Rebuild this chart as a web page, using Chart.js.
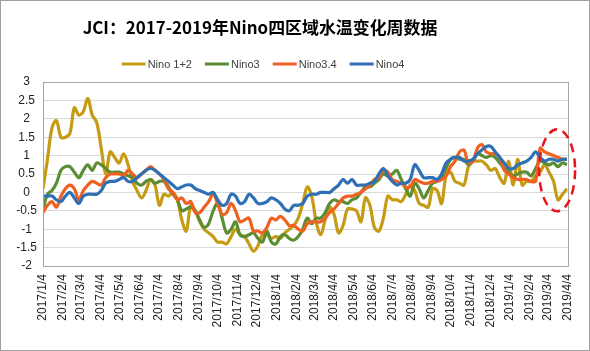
<!DOCTYPE html>
<html lang="zh-CN">
<head>
    <meta charset="UTF-8">
    <title>JCI Nino四区域水温变化周数据</title>
    <script src="https://cdn.jsdelivr.net/npm/chart.js"></script>
    <style>
        body {
            margin: 0;
            padding: 0;
            background-color: #fff;
        }
        .container {
            width: 590px;
            height: 351px;
        }
    </style>
</head>
<body>

    <div class="container">
        <canvas id="graficoNino" width="590" height="351"></canvas>
    </div>

    <script>
        // 周数据起点（每周一个点）
        const startDate = "2017/1/4";

        // x轴刻度（每月）
        const tickLabels = [
            "2017/1/4", "2017/2/4", "2017/3/4", "2017/4/4", "2017/5/4", "2017/6/4", "2017/7/4",
            "2017/8/4", "2017/9/4", "2017/10/4", "2017/11/4", "2017/12/4", "2018/1/4", "2018/2/4",
            "2018/3/4", "2018/4/4", "2018/5/4", "2018/6/4", "2018/7/4", "2018/8/4", "2018/9/4",
            "2018/10/4", "2018/11/4", "2018/12/4", "2019/1/4", "2019/2/4", "2019/3/4", "2019/4/4"
        ];

        const seriesNames = ["Nino 1+2", "Nino3", "Nino3.4", "Nino4"];
        const seriesColors = ["#C69B14", "#5C8D33", "#EF6121", "#2F6FB4"];

        const nino12 = [
            0.1, 0.9, 1.75, 1.95, 1.5, 1.5, 1.6, 2.3, 2.1, 2.2,
            2.55, 2.1, 1.9, 1.2, 0.5, 1.1, 0.95, 0.8, 1.05, 0.75,
            0.3, 0.05, -0.15, 0.05, 0.35, 0.2, -0.35, -0.05, -0.1, 0.0,
            -0.2, -0.75, -1.05, -0.35, -0.5, -0.8, -1.0, -1.1, -1.2, -1.35,
            -1.35, -1.4, -1.2, -1.0, -1.15, -1.2, -1.4, -1.6, -1.45, -1.15,
            -1.15, -1.25, -1.2, -1.25, -1.1, -1.0, -0.9, -0.7, -0.3, 0.15,
            -0.1, -0.8, -1.15, -0.75, -0.4, -0.6, -1.1, -0.9, -0.45, -0.45,
            -0.5, -0.8, -0.15, -0.35, -0.95, -1.05, -0.7, -0.1, -0.2, -0.2,
            -0.25, -0.05, 0.2, 0.05, -0.3, -0.35, -0.4, 0.1, 0.05, -0.3,
            0.45, 0.55, 0.3, 0.25, 0.2, 0.7, 0.85, 0.85, 0.85, 0.75,
            0.6, 0.65, 0.4, 0.25, 0.85, 0.2, 0.9, 0.2, 0.3, 0.3,
            0.45, 0.55, 0.75, 0.55, 0.3, -0.2, -0.05, 0.1
        ];
        const nino3 = [
            -0.45, -0.05, 0.05, 0.25, 0.6, 0.7, 0.7, 0.55, 0.4, 0.6,
            0.75, 0.6, 0.8, 0.75, 0.65, 0.55, 0.55, 0.55, 0.5, 0.45,
            0.4, 0.25, 0.2, 0.3, 0.35, 0.25, 0.3, 0.3, 0.15, -0.05,
            -0.2, -0.5, -0.45, -0.4, -0.5, -0.75, -0.95, -0.85, -0.5, -0.3,
            -0.7, -1.1, -1.0, -0.8, -1.15, -1.2, -1.15, -1.1, -1.25, -1.35,
            -1.05, -1.35, -1.4, -1.2, -1.15, -1.25, -1.3, -1.2, -1.0, -0.7,
            -0.85, -0.7, -0.7, -0.55, -0.3, -0.2, -0.25, -0.25, -0.3, -0.2,
            -0.15, 0.0, 0.15, 0.15, 0.25, 0.35, 0.5, 0.45, 0.5, 0.6,
            0.35, 0.1, -0.1, 0.25, 0.1, -0.15, 0.05, 0.25, 0.3, 0.4,
            0.65, 0.9, 0.95, 0.9, 0.9, 0.75, 0.85, 1.05, 1.0, 0.95,
            1.0, 0.95, 0.8, 0.65, 0.55, 0.45, 0.5, 0.55, 0.55, 0.45,
            0.65, 0.85, 0.8, 0.75, 0.8, 0.7, 0.8, 0.75
        ];
        const nino34 = [
            -0.55, -0.35, -0.25, -0.4, -0.1, 0.1, 0.2, 0.1, -0.2, 0.05,
            0.2, 0.3, 0.25, 0.2, 0.4, 0.5, 0.5, 0.5, 0.45, 0.6,
            0.5, 0.4, 0.5, 0.6, 0.7, 0.6, 0.5, 0.35, 0.1, 0.0,
            -0.2, -0.15, -0.3, -0.25, -0.55, -0.55, -0.4, -0.25, -0.05, -0.3,
            -0.6, -0.55, -0.3, -0.5, -0.8, -0.75, -0.7, -1.05, -1.05, -1.1,
            -0.95, -0.7, -0.75, -0.65, -0.75, -0.9, -0.9, -1.0, -1.05, -0.85,
            -0.8, -0.8, -0.8, -0.7, -0.55, -0.45, -0.3, -0.15, -0.1, -0.1,
            -0.05, 0.0, 0.1, 0.2, 0.35, 0.4, 0.6, 0.55, 0.35, 0.3,
            0.25, 0.15, 0.15, 0.35, 0.3, 0.25, 0.25, 0.3, 0.3, 0.35,
            0.45, 0.7, 0.85, 1.1, 1.15, 0.8, 0.85, 1.2, 1.3, 1.1,
            1.05, 1.05, 0.95, 0.6, 0.5, 0.4, 0.35, 0.35, 0.35, 0.3,
            0.3, 1.2, 1.1, 1.05, 1.0, 0.95, 0.9, 0.9
        ];
        const nino4 = [
            -0.1, -0.1, -0.1, -0.2, -0.25, -0.1, 0.0, -0.15, -0.3, -0.1,
            -0.05, -0.05, -0.05, 0.05, 0.25, 0.3, 0.3, 0.35, 0.4, 0.3,
            0.3, 0.4, 0.5, 0.6, 0.65, 0.6, 0.5, 0.4, 0.3, 0.2,
            0.1, 0.15, 0.2, 0.2, 0.1, 0.05, 0.0, -0.05, 0.0, -0.2,
            -0.35, -0.3, -0.05, -0.1, -0.3, -0.25, -0.05, -0.15, -0.3, -0.3,
            -0.25, -0.15, -0.2, -0.3, -0.45, -0.5, -0.35, -0.35, -0.3, -0.1,
            -0.05, -0.05, 0.0, 0.0, 0.0, 0.1, 0.2, 0.35, 0.25, 0.35,
            0.2, 0.2, 0.2, 0.25, 0.3, 0.5, 0.65, 0.45, 0.3, 0.2,
            0.25, 0.25, 0.35, 0.75, 0.6, 0.4, 0.4, 0.4, 0.35, 0.5,
            0.8, 0.9, 0.95, 0.95, 0.85, 0.85, 0.9, 1.05, 1.15, 1.25,
            1.25, 1.1, 0.95, 0.8, 0.65, 0.65, 0.75, 0.8, 0.85, 0.95,
            1.1, 0.95, 0.85, 0.9, 0.9, 0.85, 0.9, 0.9
        ];

        const allSeries = [nino12, nino3, nino34, nino4];

        // 日期 -> 距起点的天数
        function dayOffset(label) {
            const p = label.split("/").map(Number);
            const s = startDate.split("/").map(Number);
            return (Date.UTC(p[0], p[1] - 1, p[2]) - Date.UTC(s[0], s[1] - 1, s[2])) / 86400000;
        }
        const tickDays = tickLabels.map(dayOffset);

        const fontLatin = "'Liberation Sans', Arial, sans-serif";

        // 标题、图例、边框、红色虚线椭圆
        const decorPlugin = {
            id: "decor",
            afterDatasetsDraw(chart) {
                const ctx = chart.ctx;
                const area = chart.chartArea;
                const xs = chart.scales.x;
                const ys = chart.scales.y;

                // 绘图区边框
                ctx.save();
                ctx.strokeStyle = "#a6a6a6";
                ctx.lineWidth = 1;
                ctx.strokeRect(Math.round(area.left) + 0.5, Math.round(area.top) + 0.5,
                    Math.round(area.right - area.left), Math.round(area.bottom - area.top));

                // 红色虚线椭圆（标注最近几周）
                const cx = xs.getPixelForValue(114.8 * 7);
                const cy = ys.getPixelForValue(0.6);
                ctx.strokeStyle = "#E8141C";
                ctx.lineWidth = 2.5;
                ctx.setLineDash([9, 6]);
                ctx.beginPath();
                ctx.ellipse(cx, cy, 18, 41, 0, 0, Math.PI * 2);
                ctx.stroke();
                ctx.restore();
            },
            afterDraw(chart) {
                const ctx = chart.ctx;
                ctx.save();

                // 外框
                ctx.strokeStyle = "#a0a0a0";
                ctx.lineWidth = 1;
                ctx.strokeRect(0.5, 0.5, chart.width - 1, chart.height - 1);

                // 标题
                const title = "JCI：2017-2019年Nino四区域水温变化周数据";
                let size = 18;
                ctx.font = "bold " + size + "px 'Noto Sans CJK SC', sans-serif";
                size = size * 355 / ctx.measureText(title).width;
                ctx.font = "bold " + size.toFixed(2) + "px 'Noto Sans CJK SC', sans-serif";
                ctx.fillStyle = "#000";
                ctx.textAlign = "center";
                ctx.textBaseline = "middle";
                ctx.fillText(title, 260, 28);

                // 图例
                ctx.font = "11px " + fontLatin;
                ctx.textAlign = "left";
                const swatch = 24, gap = 2, spacing = 13;
                const widths = seriesNames.map(n => swatch + gap + ctx.measureText(n).width);
                const total = widths.reduce((a, b) => a + b, 0) + spacing * (seriesNames.length - 1);
                let x = 263 - total / 2;
                const y = 64;
                seriesNames.forEach((name, i) => {
                    ctx.fillStyle = seriesColors[i];
                    ctx.fillRect(x, y - 1.5, swatch, 3);
                    ctx.fillStyle = "#404040";
                    ctx.fillText(name, x + swatch + gap, y + 0.5);
                    x += widths[i] + spacing;
                });
                ctx.restore();
            }
        };

        // 数据集：Nino4 画在最上层
        const datasets = seriesNames.map((name, i) => ({
            label: name,
            data: allSeries[i].map((v, w) => ({ x: w * 7, y: v })),
            borderColor: seriesColors[i],
            backgroundColor: seriesColors[i],
            borderWidth: 3.2,
            pointRadius: 0,
            tension: 0.35,
            order: seriesNames.length - i
        }));

        new Chart(document.getElementById("graficoNino"), {
            type: "line",
            data: { datasets: datasets },
            options: {
                responsive: false,
                animation: false,
                layout: { padding: { top: 82, right: 15, left: 0, bottom: 0 } },
                plugins: {
                    legend: { display: false },
                    title: { display: false },
                    tooltip: { enabled: false }
                },
                scales: {
                    x: {
                        type: "linear",
                        min: 0,
                        max: tickDays[tickDays.length - 1],
                        grid: { display: false, drawTicks: false },
                        border: { display: false },
                        afterBuildTicks: (scale) => {
                            scale.ticks = tickDays.map(v => ({ value: v }));
                        },
                        afterFit: (scale) => { scale.height = 85; },
                        ticks: {
                            autoSkip: false,
                            minRotation: 90,
                            maxRotation: 90,
                            padding: 8,
                            color: "#222",
                            font: { size: 12, family: fontLatin },
                            callback: (v) => tickLabels[tickDays.indexOf(v)]
                        }
                    },
                    y: {
                        min: -2,
                        max: 3,
                        grid: { color: "#d9d9d9", drawTicks: false },
                        border: { display: false },
                        afterFit: (scale) => { scale.width = 43; },
                        ticks: {
                            stepSize: 0.5,
                            crossAlign: "center",
                            padding: 6,
                            color: "#222",
                            font: { size: 12, family: fontLatin },
                            callback: (v) => String(Math.round(v * 10) / 10)
                        }
                    }
                }
            },
            plugins: [decorPlugin]
        });
    </script>

</body>
</html>
